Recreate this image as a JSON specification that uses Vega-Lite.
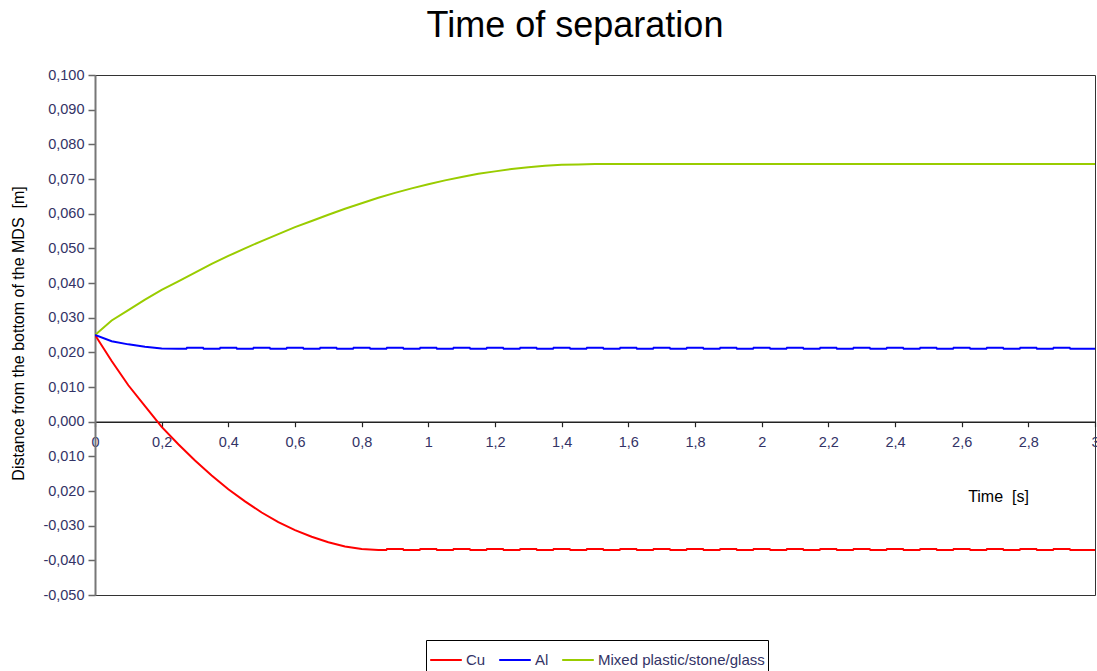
{
  "$schema": "https://vega.github.io/schema/vega-lite/v6.json",
  "width": 1000,
  "height": 520,
  "autosize": {"type": "none"},
  "padding": {"left": 95, "top": 75, "right": 2, "bottom": 76},
  "background": "white",
  "title": {"text": "Time of separation", "font": "Liberation Sans", "fontSize": 36, "fontWeight": "normal", "color": "#000", "anchor": "middle", "dx": -20, "offset": 22},
  "config": {"view": {"stroke": "#333", "strokeWidth": 1}, "font": "Liberation Sans"},
  "data": {"values": [
    {"s":"Mixed plastic/stone/glass","t":0,"v":0.025},
    {"s":"Mixed plastic/stone/glass","t":0.05,"v":0.0292},
    {"s":"Mixed plastic/stone/glass","t":0.1,"v":0.0322},
    {"s":"Mixed plastic/stone/glass","t":0.15,"v":0.0352},
    {"s":"Mixed plastic/stone/glass","t":0.2,"v":0.038},
    {"s":"Mixed plastic/stone/glass","t":0.25,"v":0.0405},
    {"s":"Mixed plastic/stone/glass","t":0.3,"v":0.043},
    {"s":"Mixed plastic/stone/glass","t":0.35,"v":0.0455},
    {"s":"Mixed plastic/stone/glass","t":0.4,"v":0.0478},
    {"s":"Mixed plastic/stone/glass","t":0.45,"v":0.05},
    {"s":"Mixed plastic/stone/glass","t":0.5,"v":0.0521},
    {"s":"Mixed plastic/stone/glass","t":0.55,"v":0.0541},
    {"s":"Mixed plastic/stone/glass","t":0.6,"v":0.0561},
    {"s":"Mixed plastic/stone/glass","t":0.65,"v":0.0579},
    {"s":"Mixed plastic/stone/glass","t":0.7,"v":0.0597},
    {"s":"Mixed plastic/stone/glass","t":0.75,"v":0.0614},
    {"s":"Mixed plastic/stone/glass","t":0.8,"v":0.063},
    {"s":"Mixed plastic/stone/glass","t":0.85,"v":0.0646},
    {"s":"Mixed plastic/stone/glass","t":0.9,"v":0.066},
    {"s":"Mixed plastic/stone/glass","t":0.95,"v":0.0673},
    {"s":"Mixed plastic/stone/glass","t":1.0,"v":0.0685},
    {"s":"Mixed plastic/stone/glass","t":1.05,"v":0.0696},
    {"s":"Mixed plastic/stone/glass","t":1.1,"v":0.0706},
    {"s":"Mixed plastic/stone/glass","t":1.15,"v":0.0715},
    {"s":"Mixed plastic/stone/glass","t":1.2,"v":0.0722},
    {"s":"Mixed plastic/stone/glass","t":1.25,"v":0.0729},
    {"s":"Mixed plastic/stone/glass","t":1.3,"v":0.0734},
    {"s":"Mixed plastic/stone/glass","t":1.35,"v":0.0738},
    {"s":"Mixed plastic/stone/glass","t":1.4,"v":0.0741},
    {"s":"Mixed plastic/stone/glass","t":1.45,"v":0.0742},
    {"s":"Mixed plastic/stone/glass","t":1.5,"v":0.0743},
    {"s":"Mixed plastic/stone/glass","t":2.0,"v":0.0743},
    {"s":"Mixed plastic/stone/glass","t":2.5,"v":0.0743},
    {"s":"Mixed plastic/stone/glass","t":3.0,"v":0.0743},

    {"s":"Cu","t":0,"v":0.025},
    {"s":"Cu","t":0.05,"v":0.0175},
    {"s":"Cu","t":0.1,"v":0.0105},
    {"s":"Cu","t":0.15,"v":0.0045},
    {"s":"Cu","t":0.2,"v":-0.0015},
    {"s":"Cu","t":0.25,"v":-0.0065},
    {"s":"Cu","t":0.3,"v":-0.0112},
    {"s":"Cu","t":0.35,"v":-0.0155},
    {"s":"Cu","t":0.4,"v":-0.0195},
    {"s":"Cu","t":0.45,"v":-0.023},
    {"s":"Cu","t":0.5,"v":-0.0262},
    {"s":"Cu","t":0.55,"v":-0.029},
    {"s":"Cu","t":0.6,"v":-0.0313},
    {"s":"Cu","t":0.65,"v":-0.0332},
    {"s":"Cu","t":0.7,"v":-0.0348},
    {"s":"Cu","t":0.75,"v":-0.036},
    {"s":"Cu","t":0.8,"v":-0.0367},
    {"s":"Cu","t":0.85,"v":-0.037},
    {"s":"Cu","t":0.874,"v":-0.037},{"s":"Cu","t":0.876,"v":-0.0367},{"s":"Cu","t":0.924,"v":-0.0367},{"s":"Cu","t":0.926,"v":-0.037},
    {"s":"Cu","t":0.974,"v":-0.037},{"s":"Cu","t":0.976,"v":-0.0367},{"s":"Cu","t":1.024,"v":-0.0367},{"s":"Cu","t":1.026,"v":-0.037},
    {"s":"Cu","t":1.074,"v":-0.037},{"s":"Cu","t":1.076,"v":-0.0367},{"s":"Cu","t":1.124,"v":-0.0367},{"s":"Cu","t":1.126,"v":-0.037},
    {"s":"Cu","t":1.174,"v":-0.037},{"s":"Cu","t":1.176,"v":-0.0367},{"s":"Cu","t":1.224,"v":-0.0367},{"s":"Cu","t":1.226,"v":-0.037},
    {"s":"Cu","t":1.274,"v":-0.037},{"s":"Cu","t":1.276,"v":-0.0367},{"s":"Cu","t":1.324,"v":-0.0367},{"s":"Cu","t":1.326,"v":-0.037},
    {"s":"Cu","t":1.374,"v":-0.037},{"s":"Cu","t":1.376,"v":-0.0367},{"s":"Cu","t":1.424,"v":-0.0367},{"s":"Cu","t":1.426,"v":-0.037},
    {"s":"Cu","t":1.474,"v":-0.037},{"s":"Cu","t":1.476,"v":-0.0367},{"s":"Cu","t":1.524,"v":-0.0367},{"s":"Cu","t":1.526,"v":-0.037},
    {"s":"Cu","t":1.574,"v":-0.037},{"s":"Cu","t":1.576,"v":-0.0367},{"s":"Cu","t":1.624,"v":-0.0367},{"s":"Cu","t":1.626,"v":-0.037},
    {"s":"Cu","t":1.674,"v":-0.037},{"s":"Cu","t":1.676,"v":-0.0367},{"s":"Cu","t":1.724,"v":-0.0367},{"s":"Cu","t":1.726,"v":-0.037},
    {"s":"Cu","t":1.774,"v":-0.037},{"s":"Cu","t":1.776,"v":-0.0367},{"s":"Cu","t":1.824,"v":-0.0367},{"s":"Cu","t":1.826,"v":-0.037},
    {"s":"Cu","t":1.874,"v":-0.037},{"s":"Cu","t":1.876,"v":-0.0367},{"s":"Cu","t":1.924,"v":-0.0367},{"s":"Cu","t":1.926,"v":-0.037},
    {"s":"Cu","t":1.974,"v":-0.037},{"s":"Cu","t":1.976,"v":-0.0367},{"s":"Cu","t":2.024,"v":-0.0367},{"s":"Cu","t":2.026,"v":-0.037},
    {"s":"Cu","t":2.074,"v":-0.037},{"s":"Cu","t":2.076,"v":-0.0367},{"s":"Cu","t":2.124,"v":-0.0367},{"s":"Cu","t":2.126,"v":-0.037},
    {"s":"Cu","t":2.174,"v":-0.037},{"s":"Cu","t":2.176,"v":-0.0367},{"s":"Cu","t":2.224,"v":-0.0367},{"s":"Cu","t":2.226,"v":-0.037},
    {"s":"Cu","t":2.274,"v":-0.037},{"s":"Cu","t":2.276,"v":-0.0367},{"s":"Cu","t":2.324,"v":-0.0367},{"s":"Cu","t":2.326,"v":-0.037},
    {"s":"Cu","t":2.374,"v":-0.037},{"s":"Cu","t":2.376,"v":-0.0367},{"s":"Cu","t":2.424,"v":-0.0367},{"s":"Cu","t":2.426,"v":-0.037},
    {"s":"Cu","t":2.474,"v":-0.037},{"s":"Cu","t":2.476,"v":-0.0367},{"s":"Cu","t":2.524,"v":-0.0367},{"s":"Cu","t":2.526,"v":-0.037},
    {"s":"Cu","t":2.574,"v":-0.037},{"s":"Cu","t":2.576,"v":-0.0367},{"s":"Cu","t":2.624,"v":-0.0367},{"s":"Cu","t":2.626,"v":-0.037},
    {"s":"Cu","t":2.674,"v":-0.037},{"s":"Cu","t":2.676,"v":-0.0367},{"s":"Cu","t":2.724,"v":-0.0367},{"s":"Cu","t":2.726,"v":-0.037},
    {"s":"Cu","t":2.774,"v":-0.037},{"s":"Cu","t":2.776,"v":-0.0367},{"s":"Cu","t":2.824,"v":-0.0367},{"s":"Cu","t":2.826,"v":-0.037},
    {"s":"Cu","t":2.874,"v":-0.037},{"s":"Cu","t":2.876,"v":-0.0367},{"s":"Cu","t":2.924,"v":-0.0367},{"s":"Cu","t":2.926,"v":-0.037},
    {"s":"Cu","t":3.0,"v":-0.037},

    {"s":"Al","t":0,"v":0.025},
    {"s":"Al","t":0.05,"v":0.0232},
    {"s":"Al","t":0.1,"v":0.0223},
    {"s":"Al","t":0.15,"v":0.0216},
    {"s":"Al","t":0.2,"v":0.0211},
    {"s":"Al","t":0.25,"v":0.021},
    {"s":"Al","t":0.274,"v":0.021},{"s":"Al","t":0.276,"v":0.0213},{"s":"Al","t":0.324,"v":0.0213},{"s":"Al","t":0.326,"v":0.021},
    {"s":"Al","t":0.374,"v":0.021},{"s":"Al","t":0.376,"v":0.0213},{"s":"Al","t":0.424,"v":0.0213},{"s":"Al","t":0.426,"v":0.021},
    {"s":"Al","t":0.474,"v":0.021},{"s":"Al","t":0.476,"v":0.0213},{"s":"Al","t":0.524,"v":0.0213},{"s":"Al","t":0.526,"v":0.021},
    {"s":"Al","t":0.574,"v":0.021},{"s":"Al","t":0.576,"v":0.0213},{"s":"Al","t":0.624,"v":0.0213},{"s":"Al","t":0.626,"v":0.021},
    {"s":"Al","t":0.674,"v":0.021},{"s":"Al","t":0.676,"v":0.0213},{"s":"Al","t":0.724,"v":0.0213},{"s":"Al","t":0.726,"v":0.021},
    {"s":"Al","t":0.774,"v":0.021},{"s":"Al","t":0.776,"v":0.0213},{"s":"Al","t":0.824,"v":0.0213},{"s":"Al","t":0.826,"v":0.021},
    {"s":"Al","t":0.874,"v":0.021},{"s":"Al","t":0.876,"v":0.0213},{"s":"Al","t":0.924,"v":0.0213},{"s":"Al","t":0.926,"v":0.021},
    {"s":"Al","t":0.974,"v":0.021},{"s":"Al","t":0.976,"v":0.0213},{"s":"Al","t":1.024,"v":0.0213},{"s":"Al","t":1.026,"v":0.021},
    {"s":"Al","t":1.074,"v":0.021},{"s":"Al","t":1.076,"v":0.0213},{"s":"Al","t":1.124,"v":0.0213},{"s":"Al","t":1.126,"v":0.021},
    {"s":"Al","t":1.174,"v":0.021},{"s":"Al","t":1.176,"v":0.0213},{"s":"Al","t":1.224,"v":0.0213},{"s":"Al","t":1.226,"v":0.021},
    {"s":"Al","t":1.274,"v":0.021},{"s":"Al","t":1.276,"v":0.0213},{"s":"Al","t":1.324,"v":0.0213},{"s":"Al","t":1.326,"v":0.021},
    {"s":"Al","t":1.374,"v":0.021},{"s":"Al","t":1.376,"v":0.0213},{"s":"Al","t":1.424,"v":0.0213},{"s":"Al","t":1.426,"v":0.021},
    {"s":"Al","t":1.474,"v":0.021},{"s":"Al","t":1.476,"v":0.0213},{"s":"Al","t":1.524,"v":0.0213},{"s":"Al","t":1.526,"v":0.021},
    {"s":"Al","t":1.574,"v":0.021},{"s":"Al","t":1.576,"v":0.0213},{"s":"Al","t":1.624,"v":0.0213},{"s":"Al","t":1.626,"v":0.021},
    {"s":"Al","t":1.674,"v":0.021},{"s":"Al","t":1.676,"v":0.0213},{"s":"Al","t":1.724,"v":0.0213},{"s":"Al","t":1.726,"v":0.021},
    {"s":"Al","t":1.774,"v":0.021},{"s":"Al","t":1.776,"v":0.0213},{"s":"Al","t":1.824,"v":0.0213},{"s":"Al","t":1.826,"v":0.021},
    {"s":"Al","t":1.874,"v":0.021},{"s":"Al","t":1.876,"v":0.0213},{"s":"Al","t":1.924,"v":0.0213},{"s":"Al","t":1.926,"v":0.021},
    {"s":"Al","t":1.974,"v":0.021},{"s":"Al","t":1.976,"v":0.0213},{"s":"Al","t":2.024,"v":0.0213},{"s":"Al","t":2.026,"v":0.021},
    {"s":"Al","t":2.074,"v":0.021},{"s":"Al","t":2.076,"v":0.0213},{"s":"Al","t":2.124,"v":0.0213},{"s":"Al","t":2.126,"v":0.021},
    {"s":"Al","t":2.174,"v":0.021},{"s":"Al","t":2.176,"v":0.0213},{"s":"Al","t":2.224,"v":0.0213},{"s":"Al","t":2.226,"v":0.021},
    {"s":"Al","t":2.274,"v":0.021},{"s":"Al","t":2.276,"v":0.0213},{"s":"Al","t":2.324,"v":0.0213},{"s":"Al","t":2.326,"v":0.021},
    {"s":"Al","t":2.374,"v":0.021},{"s":"Al","t":2.376,"v":0.0213},{"s":"Al","t":2.424,"v":0.0213},{"s":"Al","t":2.426,"v":0.021},
    {"s":"Al","t":2.474,"v":0.021},{"s":"Al","t":2.476,"v":0.0213},{"s":"Al","t":2.524,"v":0.0213},{"s":"Al","t":2.526,"v":0.021},
    {"s":"Al","t":2.574,"v":0.021},{"s":"Al","t":2.576,"v":0.0213},{"s":"Al","t":2.624,"v":0.0213},{"s":"Al","t":2.626,"v":0.021},
    {"s":"Al","t":2.674,"v":0.021},{"s":"Al","t":2.676,"v":0.0213},{"s":"Al","t":2.724,"v":0.0213},{"s":"Al","t":2.726,"v":0.021},
    {"s":"Al","t":2.774,"v":0.021},{"s":"Al","t":2.776,"v":0.0213},{"s":"Al","t":2.824,"v":0.0213},{"s":"Al","t":2.826,"v":0.021},
    {"s":"Al","t":2.874,"v":0.021},{"s":"Al","t":2.876,"v":0.0213},{"s":"Al","t":2.924,"v":0.0213},{"s":"Al","t":2.926,"v":0.021},
    {"s":"Al","t":3.0,"v":0.021}
  ]},
  "mark": {"type": "line", "strokeWidth": 2, "clip": true},
  "encoding": {
    "x": {
      "field": "t", "type": "quantitative",
      "scale": {"domain": [0, 3], "nice": false, "zero": false},
      "axis": {
        "values": [0, 0.2, 0.4, 0.6, 0.8, 1, 1.2, 1.4, 1.6, 1.8, 2, 2.2, 2.4, 2.6, 2.8, 3],
        "labelExpr": "replace(toString(round(datum.value*10)/10), '.', ',')",
        "offset": -173.3,
        "grid": false,
        "domainColor": "#222", "domainWidth": 1.5,
        "tickColor": "#222", "tickSize": 5, "tickWidth": 1.2,
        "labelFont": "Liberation Sans", "labelFontSize": 14.5, "labelColor": "#333366", "labelPadding": 9,
        "labelFlush": false, "labelOverlap": false, "labelBound": false,
        "title": "Time \u00a0[s]", "titleFont": "Liberation Sans", "titleFontSize": 16, "titleFontWeight": "normal", "titleColor": "#000",
        "titleX": 903, "titleY": 75, "titleAlign": "center", "titleBaseline": "middle"
      }
    },
    "y": {
      "field": "v", "type": "quantitative",
      "scale": {"domain": [-0.05, 0.1], "nice": false, "zero": false},
      "axis": {
        "values": [-0.05, -0.04, -0.03, -0.02, -0.01, 0, 0.01, 0.02, 0.03, 0.04, 0.05, 0.06, 0.07, 0.08, 0.09, 0.1],
        "labelExpr": "(datum.value < -0.025 ? '-' : '') + replace(format(abs(datum.value), '.3f'), '.', ',')",
        "grid": false,
        "domainColor": "#777", "domainWidth": 2,
        "tickColor": "#666", "tickWidth": 1.5, "tickSize": 7,
        "labelFont": "Liberation Sans", "labelFontSize": 14.5, "labelColor": "#333366", "labelPadding": 4,
        "labelOverlap": false,
        "title": "Distance from the bottom of the MDS \u00a0[m]", "titleFont": "Liberation Sans", "titleFontSize": 16, "titleFontWeight": "normal", "titleColor": "#000",
        "titleX": -69, "titleY": 258, "titleAngle": -90, "titleAlign": "center", "titleBaseline": "bottom"
      }
    },
    "color": {
      "field": "s", "type": "nominal",
      "scale": {"domain": ["Cu", "Al", "Mixed plastic/stone/glass"], "range": ["#ff0000", "#0000ff", "#99cc00"]},
      "legend": {
        "orient": "none", "legendX": 331, "legendY": 565, "direction": "horizontal", "title": null,
        "symbolType": "stroke", "symbolSize": 1000, "symbolStrokeWidth": 2,
        "labelFont": "Liberation Sans", "labelFontSize": 15, "labelColor": "#333366", "labelLimit": 400,
        "strokeColor": "#000", "fillColor": "#fff", "padding": 3, "columnPadding": 9, "labelOffset": 3
      }
    }
  }
}
